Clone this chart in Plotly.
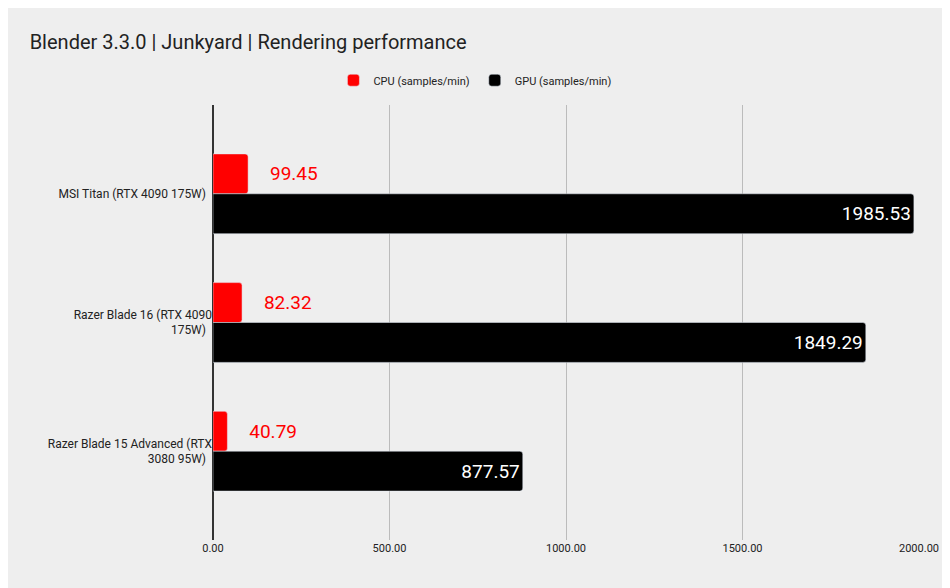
import plotly.graph_objects as go

categories = ["MSI Titan (RTX 4090 175W)", "Razer Blade 16 (RTX 4090<br>175W)", "Razer Blade 15 Advanced (RTX<br>3080 95W)"]
cpu = [99.45, 82.32, 40.79]
gpu = [1985.53, 1849.29, 877.57]

fig = go.Figure()
fig.add_trace(go.Bar(y=categories, x=cpu, orientation="h", name="CPU (samples/min)",
    marker_color="#ff0000", marker_cornerradius=3,
    text=[f"    {v:.2f}" for v in cpu], textposition="outside",
    textfont=dict(color="#ff0000", size=19), cliponaxis=False))
fig.add_trace(go.Bar(y=categories, x=gpu, orientation="h", name="GPU (samples/min)",
    marker_color="#000000", marker_cornerradius=3,
    text=[f"{v:.2f}" for v in gpu], textposition="inside",
    insidetextanchor="end", textfont=dict(color="#ffffff", size=19)))

fig.update_layout(
    width=942, height=580, paper_bgcolor="#eeeeee", plot_bgcolor="#eeeeee",
    font=dict(family="Roboto", color="#222222", size=10),
    title=dict(text="Blender 3.3.0 | Junkyard | Rendering performance", x=0.023, xanchor="left",
               y=1-34/580, yanchor="middle", font=dict(size=20, color="#222222")),
    legend=dict(orientation="h", x=0.371, xanchor="center", y=1.057, yanchor="middle",
                font=dict(size=11)),
    margin=dict(l=205, r=31, t=97, b=48),
    barmode="group", bargap=0.38, bargroupgap=0,
    xaxis=dict(range=[0, 2000], tickvals=[0, 500, 1000, 1500, 2000], tickformat=".2f",
               showgrid=True, gridcolor="#bbbbbb", zeroline=True, zerolinecolor="#333333",
               tickfont=dict(size=11)),
    yaxis=dict(range=[2.69, -0.69], tickfont=dict(size=12), ticksuffix="  "),
)
fig.write_html("out.html")
